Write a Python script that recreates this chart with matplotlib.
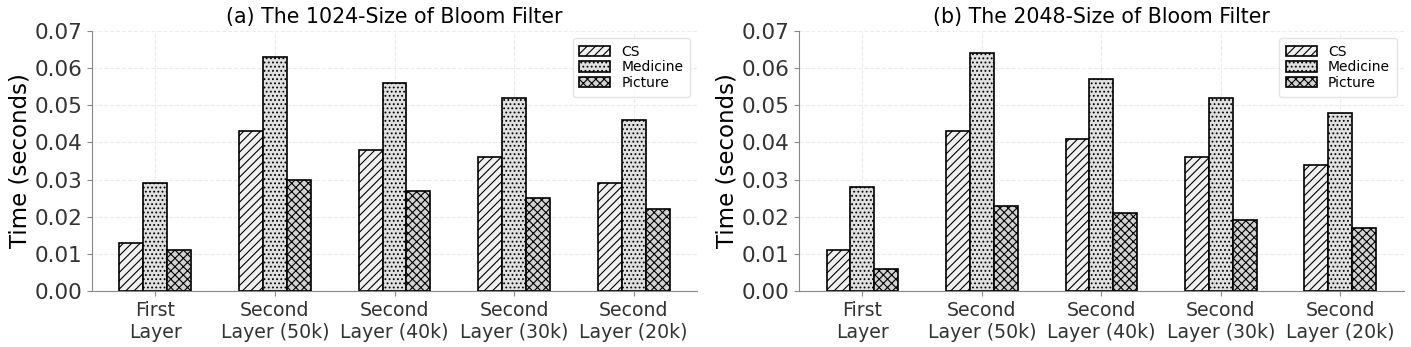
import numpy as np
import matplotlib
matplotlib.use("Agg")
import matplotlib.pyplot as plt

# 数据
categories = ["First\nLayer", "Second\nLayer (50k)", "Second\nLayer (40k)",
              "Second\nLayer (30k)", "Second\nLayer (20k)"]
series_names = ["CS", "Medicine", "Picture"]

cs_1024 = [0.013, 0.043, 0.038, 0.036, 0.029]
med_1024 = [0.029, 0.063, 0.056, 0.052, 0.046]
pic_1024 = [0.011, 0.030, 0.027, 0.025, 0.022]

cs_2048 = [0.011, 0.043, 0.041, 0.036, 0.034]
med_2048 = [0.028, 0.064, 0.057, 0.052, 0.048]
pic_2048 = [0.006, 0.023, 0.021, 0.019, 0.017]

titles = ["(a) The 1024-Size of Bloom Filter", "(b) The 2048-Size of Bloom Filter"]
yticks = [0.00, 0.01, 0.02, 0.03, 0.04, 0.05, 0.06, 0.07]

# 样式
colors = ["#f0f0f0", "#e0e0e0", "#d2d2d2"]
hatches = ["////", "....", "xxxx"]
width = 0.2
text_color = "#333333"
spine_color = "#888888"

plt.rcParams["hatch.linewidth"] = 0.8

fig = plt.figure(figsize=(14.11, 3.47), dpi=100)
ax1 = fig.add_axes([0.0652, 0.1614, 0.4288, 0.7493])
ax2 = fig.add_axes([0.5663, 0.1614, 0.4285, 0.7493])

data = [[cs_1024, med_1024, pic_1024], [cs_2048, med_2048, pic_2048]]
x = np.arange(len(categories))

for ax, series, title in zip([ax1, ax2], data, titles):
    for i, vals in enumerate(series):
        ax.bar(x + (i - 1) * width, vals, width, color=colors[i], hatch=hatches[i],
               edgecolor="black", linewidth=1.2, label=series_names[i], zorder=3)
    ax.set_xticks(x)
    ax.set_xticklabels(categories, fontsize=13.6, color=text_color)
    ax.set_ylim(0, 0.07)
    ax.set_yticks(yticks)
    ax.set_yticklabels([f"{v:.2f}" for v in yticks], fontsize=15.5, color=text_color)
    ax.set_title(title, fontsize=14.8, color="black")
    ax.grid(True, linestyle="--", color="#ececec", linewidth=0.8, zorder=0)
    for s in ["top", "right"]:
        ax.spines[s].set_visible(False)
    for s in ["left", "bottom"]:
        ax.spines[s].set_color(spine_color)
    ax.tick_params(colors=spine_color, labelcolor=text_color)
    ax.set_ylabel("Time (seconds)", fontsize=16.5, color="black", labelpad=2)
    leg = ax.legend(loc="upper right", fontsize=10, handlelength=2.2,
                    handleheight=0.8, labelspacing=0.1, borderpad=0.5,
                    handletextpad=0.8)
    leg.get_frame().set_edgecolor("#dddddd")

fig.savefig("out.png", dpi=100)
